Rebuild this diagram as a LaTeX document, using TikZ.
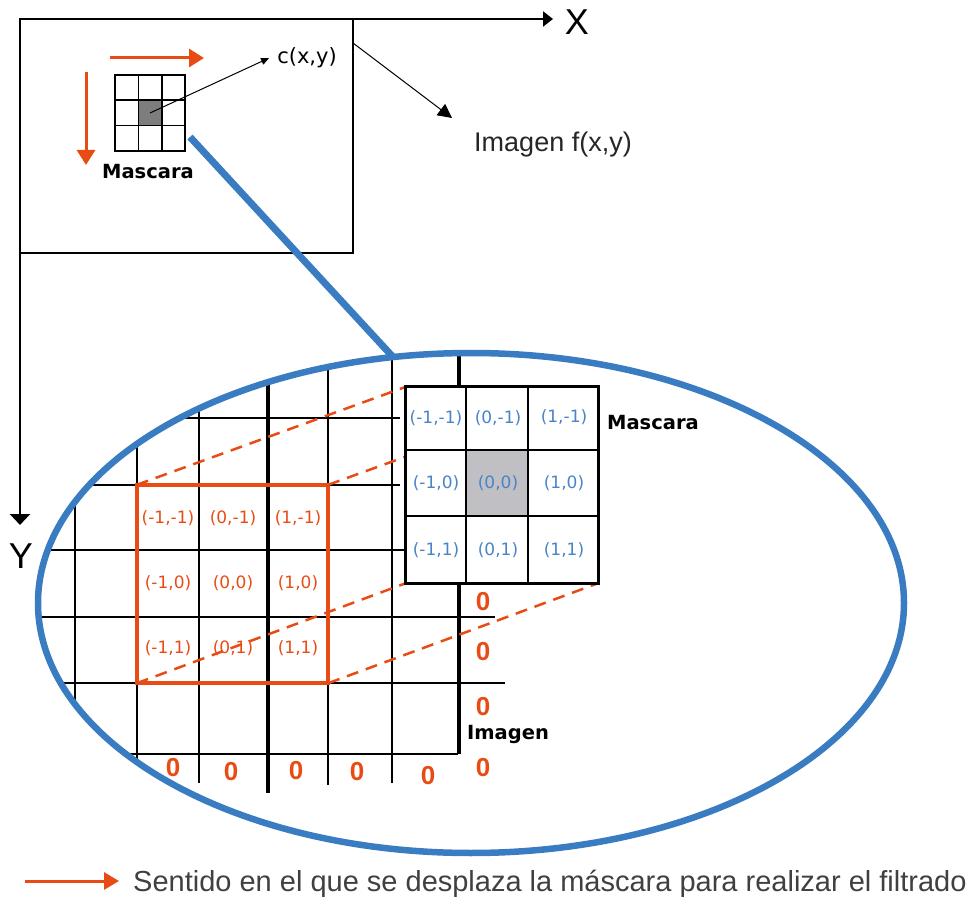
\documentclass[tikz,border=0pt]{standalone}
\usepackage{fontspec}
\setmainfont{Liberation Sans}
\newfontfamily\dejavu{DejaVu Sans}
\usetikzlibrary{arrows.meta}
\definecolor{orng}{RGB}{232,76,20}
\definecolor{blu}{RGB}{58,124,194}
\definecolor{blutxt}{RGB}{72,132,200}
\definecolor{maskgray}{RGB}{192,192,196}
\definecolor{darkcell}{RGB}{125,125,125}
\definecolor{legtxt}{RGB}{64,64,64}
\tikzset{
  gridh/.style={line width=2.5pt, black},
  gridv/.style={line width=2pt, black},
  gridthick/.style={line width=3.6pt, black},
  olbl/.style={font=\dejavu\fontsize{17}{17}\selectfont, text=orng, inner sep=0},
  blbl/.style={font=\dejavu\fontsize{17}{17}\selectfont, text=blutxt, inner sep=0},
  boldlbl/.style={font=\dejavu\bfseries\fontsize{19.5}{20}\selectfont, inner sep=0},
  zero/.style={font=\bfseries\fontsize{26}{26}\selectfont, text=orng, inner sep=0},
  orarrow/.style={orng, line width=3pt, -{Triangle[length=15pt,width=18pt]}},
  odash/.style={orng, line width=2.5pt, dash pattern=on 12pt off 8pt},
}
\begin{document}
\begin{tikzpicture}[x=1pt,y=-1pt]
\useasboundingbox (0,0) rectangle (978,901);

% ---------- top-left image frame and axes ----------
\coordinate (O) at (20,19);
\coordinate (Xend) at (553,19);
\coordinate (Yend) at (20,525);
\coordinate (frameBR) at (353,253);
\draw[line width=1.8pt] (O) rectangle (frameBR);
\draw[line width=2.2pt, -{Triangle[length=10pt,width=15pt]}] (O) -- (Xend);
\draw[line width=2.2pt, -{Triangle[length=11pt,width=20pt]}] (O) -- (Yend);
\node[font=\fontsize{36}{36}\selectfont, inner sep=0] (X) at (577,22) {X};
\node[font=\fontsize{36}{36}\selectfont, inner sep=0] (Y) at (21,556) {Y};

% small mask
\node[fill=darkcell, minimum width=23.3pt, minimum height=25.3pt, inner sep=0] (sc) at (150,113) {};
\node[draw, line width=1.6pt, minimum width=70pt, minimum height=76pt, inner sep=0] (smask) at (150,113) {};
\foreach \x in {138.3,161.7} \draw[line width=1.6pt] (\x,75) -- (\x,151);
\foreach \y in {100.3,125.7} \draw[line width=1.6pt] (115,\y) -- (185,\y);
\node[boldlbl] (smlbl) at (148,172) {Mascara};

% orange direction arrows
\coordinate (ha1) at (110,58);
\coordinate (ha2) at (204,58);
\coordinate (va1) at (86,72);
\coordinate (va2) at (86,165);
\draw[orarrow] (ha1) -- (ha2);
\draw[orarrow] (va1) -- (va2);

% c(x,y)
\node[font=\dejavu\fontsize{21}{21}\selectfont, inner sep=0] (cxy) at (307,58) {c(x,y)};
\draw[line width=1pt, -{Triangle[length=8pt,width=7pt]}] (sc.center) -- ([xshift=-8pt]cxy.west);

% Imagen f(x,y)
\coordinate (rimg) at (353,43);
\coordinate (imgtip) at (452,118);
\draw[line width=1pt, -{Triangle[length=14pt,width=14pt]}] (rimg) -- (imgtip);
\node[font=\fontsize{27}{27}\selectfont, text=black!85, inner sep=0] (imgf) at (553,145) {Imagen f(x,y)};

% ---------- magnified grid inside the ellipse ----------
\begin{scope}
\clip (471,603) ellipse [x radius=433pt, y radius=250pt];
\draw[gridh] (0,418) -- (400,418);
\draw[gridh] (0,485) -- (400,485);
\draw[gridh] (0,550) -- (406,550);
\draw[gridh] (0,617) -- (495,617);
\draw[gridh] (0,683) -- (505,683);
\draw[gridv] (0,754) -- (458,754);
\draw[gridv] (75,300) -- (75,700);
\draw[gridv] (137,300) -- (137,759);
\draw[gridv] (199,300) -- (199,783);
\draw[gridthick] (268,300) -- (268,793);
\draw[gridv] (328,300) -- (328,785);
\draw[gridv] (392,300) -- (392,783);
\draw[gridthick] (459,300) -- (459,754);
\end{scope}

% orange square (current position of the mask)
\node[minimum width=191pt, minimum height=198pt, inner sep=0] (osq) at (232.5,584) {};
\node[minimum width=192pt, minimum height=196pt, inner sep=0] (bm) at (502,485) {};

% dashed projection lines
\draw[odash] (osq.north west) -- (bm.north west);
\draw[odash] (osq.north east) -- (bm.north east);
\draw[odash] (osq.south west) -- (bm.south west);
\draw[odash] (osq.south east) -- (bm.south east);

\draw[orng, line width=4pt] (osq.north west) rectangle (osq.south east);

\node[olbl] (o11) at (168,518) {(-1,-1)};
\node[olbl] (o21) at (233,518) {(0,-1)};
\node[olbl] (o31) at (298,518) {(1,-1)};
\node[olbl] (o12) at (168,583) {(-1,0)};
\node[olbl] (o22) at (233,583) {(0,0)};
\node[olbl] (o32) at (298,583) {(1,0)};
\node[olbl] (o13) at (168,648) {(-1,1)};
\node[olbl] (o23) at (233,648) {(0,1)};
\node[olbl] (o33) at (298,648) {(1,1)};

% big mask
\fill[white] (bm.north west) rectangle (bm.south east);
\fill[maskgray] (466,450) rectangle (528,516);
\foreach \x in {466,528} \draw[line width=2pt] (\x,387) -- (\x,583);
\foreach \y in {450,516} \draw[line width=2.4pt] (406,\y) -- (598,\y);
\draw[line width=3pt] (bm.north west) rectangle (bm.south east);

\node[blbl] (b11) at (436,418) {(-1,-1)};
\node[blbl] (b21) at (498,418) {(0,-1)};
\node[blbl] (b31) at (564,417) {(1,-1)};
\node[blbl] (b12) at (436,483) {(-1,0)};
\node[blbl] (b22) at (498,483) {(0,0)};
\node[blbl] (b32) at (564,483) {(1,0)};
\node[blbl] (b13) at (436,550) {(-1,1)};
\node[blbl] (b23) at (498,550) {(0,1)};
\node[blbl] (b33) at (564,550) {(1,1)};
\node[boldlbl] (bmlbl) at (653,423) {Mascara};

% zero padding
\node[zero] (z1) at (483,602) {0};
\node[zero] (z2) at (483,652) {0};
\node[zero] (z3) at (483,707) {0};
\node[zero] (z4) at (483,768) {0};
\node[zero] (z5) at (173,768) {0};
\node[zero] (z6) at (231,772) {0};
\node[zero] (z7) at (296,771) {0};
\node[zero] (z8) at (357,772) {0};
\node[zero] (z9) at (428,776) {0};
\node[boldlbl] (imglbl) at (508,734) {Imagen};

% ---------- ellipse and zoom connector ----------
\node[minimum width=866pt, minimum height=500pt, inner sep=0] (ell) at (471,603) {};
\draw[blu, line width=6.5pt] (471,603) ellipse [x radius=433pt, y radius=250pt];
\coordinate (bl1) at (190,137);
\coordinate (bl2) at (393,357);
\draw[blu, line width=7pt] (bl1) -- (bl2);

% ---------- legend ----------
\coordinate (lg1) at (25,881);
\coordinate (lg2) at (119,881);
\draw[orarrow, -{Triangle[length=15pt,width=17pt]}] (lg1) -- (lg2);
\node[anchor=west, inner sep=0, font=\fontsize{29}{29}\selectfont, text=legtxt] (leg) at (133,884)
  {Sentido en el que se desplaza la máscara para realizar el filtrado};
\end{tikzpicture}
\end{document}
